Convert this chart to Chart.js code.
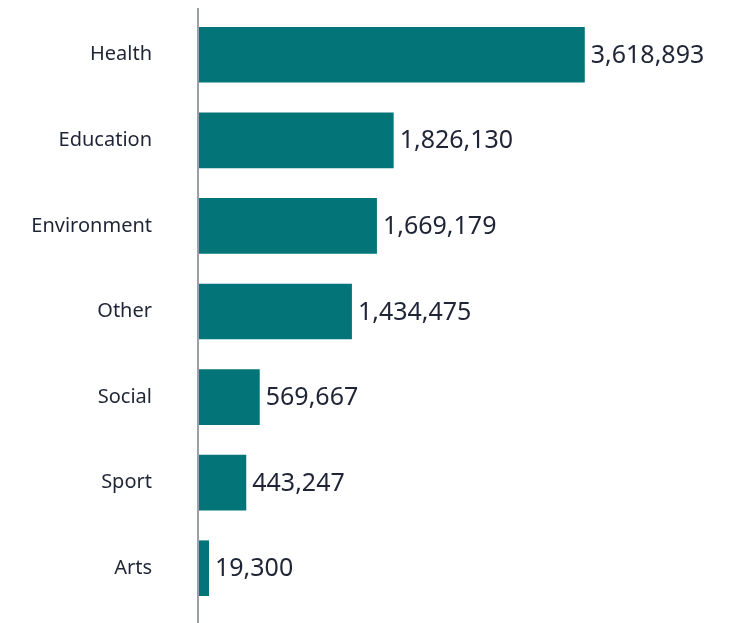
<!DOCTYPE html>
<html>
<head>
<meta charset="utf-8">
<script src="https://cdn.jsdelivr.net/npm/chart.js@4"></script>
<style>
  html, body { margin: 0; padding: 0; background: #fff; }
  .chart-container { position: relative; width: 741px; height: 623px; }
</style>
</head>
<body>
<div class="chart-container">
  <canvas id="myChart"></canvas>
</div>
<script>
// data
var categories = ["Health", "Education", "Environment", "Other", "Social", "Sport", "Arts"];
var amounts = [3618893, 1826130, 1669179, 1434475, 569667, 443247, 19300];

var barColor = "#037477";
var textColor = "#1f2536";

// value labels at the end of each bar + the tall y axis line
var valueLabels = {
  id: "valueLabels",
  afterDatasetsDraw(chart) {
    var ctx = chart.ctx;
    var meta = chart.getDatasetMeta(0);
    ctx.save();
    ctx.font = "25px 'Noto Sans'";
    ctx.fillStyle = textColor;
    ctx.textAlign = "left";
    ctx.textBaseline = "middle";
    meta.data.forEach((bar, i) => {
      ctx.fillText(amounts[i].toLocaleString("en-US"), bar.x + 6, bar.y + 1);
    });
    ctx.restore();
  },
  afterDraw(chart) {
    var ctx = chart.ctx;
    var x = chart.chartArea.left - 1;
    ctx.save();
    ctx.strokeStyle = "#9c9ea8";
    ctx.lineWidth = 2;
    ctx.beginPath();
    ctx.moveTo(x, 8);
    ctx.lineTo(x, chart.height);
    ctx.stroke();
    ctx.restore();
  },
};

new Chart(document.getElementById("myChart"), {
  type: "bar",
  data: {
    labels: categories,
    datasets: [
      {
        data: amounts,
        backgroundColor: barColor,
        borderWidth: 0,
        categoryPercentage: 1,
        barPercentage: 0.65,
        minBarLength: 10,
      },
    ],
  },
  options: {
    indexAxis: "y",
    responsive: true,
    maintainAspectRatio: false,
    animation: false,
    layout: { padding: { top: 7, bottom: 12, left: 0, right: 9 } },
    plugins: {
      legend: { display: false },
      tooltip: { enabled: false },
    },
    scales: {
      x: {
        display: false,
        min: 0,
        max: 5000000,
      },
      y: {
        grid: {
          display: true,
          drawOnChartArea: false,
          drawTicks: true,
          tickLength: 47,
          color: "rgba(0,0,0,0)",
        },
        border: { display: false },
        ticks: {
          color: textColor,
          padding: 0,
          font: { family: "'Noto Sans'", size: 20 },
        },
        afterFit(scale) {
          scale.width = 199;
        },
      },
    },
  },
  plugins: [valueLabels],
});
</script>
</body>
</html>
